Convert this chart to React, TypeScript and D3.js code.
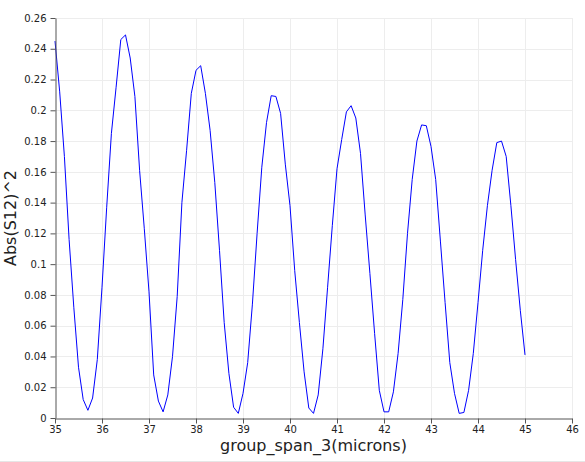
import { axisBottom, axisLeft, line, range, scaleLinear, select } from "d3";
import { useEffect, useRef } from "react";

const width = 585;
const height = 462;
const margin = { top: 18, right: 13, bottom: 44, left: 55 };

// group_span_3 sweep, 0.1 micron step
const spanValues: number[] = range(0, 101).map((i) => +(35 + i * 0.1).toFixed(1));

const s12Values: number[] = [
  0.245, 0.212, 0.17, 0.116, 0.072, 0.033, 0.012, 0.005, 0.013, 0.038,
  0.085, 0.137, 0.185, 0.215, 0.246, 0.249, 0.234, 0.209, 0.161, 0.123,
  0.082, 0.028, 0.011, 0.004, 0.015, 0.04, 0.079, 0.14, 0.174, 0.211,
  0.226, 0.229, 0.211, 0.187, 0.153, 0.109, 0.062, 0.029, 0.007, 0.003,
  0.016, 0.036, 0.074, 0.12, 0.163, 0.192, 0.2095, 0.209, 0.198, 0.165,
  0.138, 0.096, 0.062, 0.03, 0.0065, 0.003, 0.015, 0.045, 0.085, 0.125,
  0.162, 0.181, 0.199, 0.203, 0.195, 0.172, 0.132, 0.094, 0.055, 0.018,
  0.004, 0.004, 0.017, 0.042, 0.077, 0.12, 0.155, 0.18, 0.1905, 0.19,
  0.1765, 0.155, 0.115, 0.075, 0.036, 0.016, 0.003, 0.0036, 0.018, 0.042,
  0.075, 0.109, 0.138, 0.161, 0.179, 0.18, 0.17, 0.138, 0.103, 0.07,
  0.041,
];

const xTicks: number[] = [35, 36, 37, 38, 39, 40, 41, 42, 43, 44, 45, 46];
const yTicks: number[] = [
  0, 0.02, 0.04, 0.06, 0.08, 0.1, 0.12, 0.14, 0.16, 0.18, 0.2, 0.22, 0.24, 0.26,
];

const xLabel = "group_span_3(microns)";
const yLabel = "Abs(S12)^2";

const font = "'DejaVu Sans', Verdana, sans-serif";

const App = () => {
  const ref = useRef<SVGSVGElement>(null);

  useEffect(() => {
    document.body.style.margin = "0";
    if (!ref.current) return;

    const svg = select(ref.current).attr("width", width).attr("height", height);
    svg.selectAll("*").remove();

    const x = scaleLinear()
      .domain([35, 46])
      .range([margin.left, width - margin.right]);
    const y = scaleLinear()
      .domain([0, 0.26])
      .range([height - margin.bottom, margin.top]);

    svg.append("rect").attr("width", width).attr("height", height).attr("fill", "#fff");

    // grid
    const grid = svg.append("g").attr("stroke", "#ededed").attr("stroke-width", 1);
    grid
      .selectAll(".vgrid")
      .data(xTicks.slice(1))
      .join("line")
      .classed("vgrid", true)
      .attr("x1", (d) => Math.round(x(d)) + 0.5)
      .attr("x2", (d) => Math.round(x(d)) + 0.5)
      .attr("y1", y(0.26))
      .attr("y2", y(0));
    grid
      .selectAll(".hgrid")
      .data(yTicks.slice(1))
      .join("line")
      .classed("hgrid", true)
      .attr("x1", x(35))
      .attr("x2", x(46))
      .attr("y1", (d) => Math.round(y(d)) + 0.5)
      .attr("y2", (d) => Math.round(y(d)) + 0.5);

    // data line
    const points = spanValues.map((s, i) => [s, s12Values[i]] as [number, number]);
    svg
      .append("path")
      .datum(points)
      .attr("fill", "none")
      .attr("stroke", "#0000ff")
      .attr("stroke-width", 1)
      .attr("d", line<[number, number]>().x((d) => x(d[0])).y((d) => y(d[1])));

    const xAxis = axisBottom(x)
      .tickValues(xTicks)
      .tickSize(5)
      .tickSizeOuter(0)
      .tickFormat((d) => String(d));
    const yAxis = axisLeft(y)
      .tickValues(yTicks)
      .tickSize(5)
      .tickSizeOuter(0)
      .tickFormat((d) => String(+(+d).toFixed(2)));

    const gx = svg
      .append("g")
      .attr("transform", `translate(0,${Math.round(y(0)) + 0.5})`)
      .call(xAxis);
    const gy = svg
      .append("g")
      .attr("transform", `translate(${Math.round(x(35)) + 0.5},0)`)
      .call(yAxis);

    [gx, gy].forEach((g) => {
      g.select(".domain").attr("stroke", "#555");
      g.selectAll(".tick line").attr("stroke", "#555");
      g.selectAll(".tick text")
        .attr("fill", "#222")
        .style("font-family", font)
        .style("font-size", "10px");
    });
    gx.selectAll(".tick text").attr("dy", "0.71em").attr("y", 7);
    gy.selectAll(".tick text").attr("x", -9);

    svg
      .append("text")
      .attr("x", (x(35) + x(46)) / 2)
      .attr("y", 451)
      .attr("text-anchor", "middle")
      .attr("fill", "#222")
      .style("font-family", font)
      .style("font-size", "16px")
      .text(xLabel);

    svg
      .append("text")
      .attr("transform", `translate(16,${(y(0) + y(0.26)) / 2}) rotate(-90)`)
      .attr("text-anchor", "middle")
      .attr("fill", "#222")
      .style("font-family", font)
      .style("font-size", "16px")
      .text(yLabel);

    svg
      .append("line")
      .attr("x1", 0)
      .attr("x2", width)
      .attr("y1", height - 0.5)
      .attr("y2", height - 0.5)
      .attr("stroke", "#e6e6e6");
  }, []);

  return (
    <div>
      <svg ref={ref} style={{ display: "block" }} />
    </div>
  );
};

export default App;
